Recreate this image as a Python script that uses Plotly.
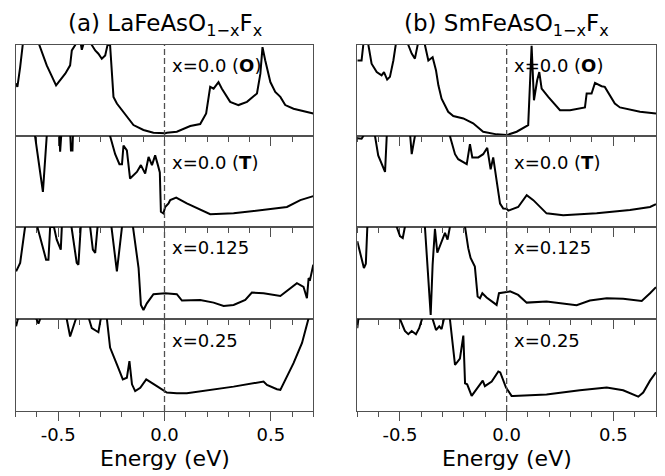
import plotly.graph_objects as go

# ---------------- data (energy in eV, DOS normalised to panel height; >1 is clipped) -------------
la_o_e = [-0.700, -0.692, -0.679, -0.667, -0.62, -0.588, -0.554, -0.510, -0.491, -0.467, -0.444, -0.436, -0.420,
          -0.40, -0.389, -0.37, -0.342, -0.326, -0.311, -0.295, -0.279, -0.268, -0.256, -0.240, -0.224, -0.193,
          -0.146, -0.099, -0.052, 0.003, 0.011, 0.058, 0.121, 0.168, 0.196, 0.215, 0.231, 0.254, 0.270, 0.309,
          0.348, 0.388, 0.435, 0.451, 0.461, 0.474, 0.498, 0.521, 0.545, 0.568, 0.607, 0.700]
la_o_d = [0.576, 0.540, 0.757, 1.0, 1.2, 1.0, 0.776, 0.557, 0.612, 0.685, 0.776, 0.940, 1.0,
          1.1, 0.947, 1.1, 1.0, 0.940, 0.904, 0.849, 0.885, 1.0, 1.0, 0.430, 0.357, 0.266,
          0.120, 0.066, 0.036, 0.029, 0.036, 0.047, 0.110, 0.131, 0.248, 0.540, 0.520, 0.593, 0.520, 0.375,
          0.340, 0.375, 0.467, 0.685, 0.976, 0.830, 0.593, 0.484, 0.430, 0.340, 0.300, 0.248]

la_t_e = [-0.700, -0.65, -0.609, -0.572, -0.554, -0.52, -0.494, -0.491, -0.486, -0.46, -0.443, -0.440, -0.433,
          -0.431, -0.35, -0.256, -0.232, -0.212, -0.200, -0.193, -0.177, -0.162, -0.130, -0.111, -0.091, -0.075,
          -0.059, -0.044, -0.031, -0.022, -0.017, -0.005, 0.003, 0.019, 0.027, 0.055, 0.105, 0.168, 0.215,
          0.325, 0.450, 0.576, 0.639, 0.700]
la_t_d = [1.2, 1.2, 1.0, 0.386, 1.0, 1.2, 1.0, 0.828, 1.0, 1.2, 1.0, 0.84, 0.84,
          1.0, 1.2, 1.0, 0.800, 0.690, 0.690, 0.896, 0.842, 0.532, 0.605, 0.680, 0.587, 0.770,
          0.680, 0.787, 0.680, 0.600, 0.167, 0.150, 0.220, 0.260, 0.295, 0.324, 0.260, 0.186, 0.140,
          0.150, 0.186, 0.220, 0.295, 0.339]

la_125_e = [-0.698, -0.679, -0.656, -0.62, -0.598, -0.557, -0.546, -0.538, -0.52, -0.507, -0.488, -0.483, -0.45,
            -0.413, -0.405, -0.394, -0.36, -0.337, -0.326, -0.315, -0.26, -0.224, -0.200, -0.16, -0.122, -0.111,
            -0.099, -0.083, -0.052, -0.020, 0.003, 0.058, 0.082, 0.168, 0.231, 0.278, 0.325, 0.380, 0.411,
            0.466, 0.545, 0.623, 0.654, 0.670, 0.678, 0.685, 0.700]
la_125_d = [0.517, 0.610, 1.0, 1.2, 1.0, 0.645, 0.645, 1.0, 1.0, 0.863, 0.754, 1.0, 1.2,
            0.610, 0.590, 1.0, 1.2, 0.754, 0.718, 1.0, 1.2, 0.517, 1.0, 1.2, 0.554, 0.153,
            0.098, 0.170, 0.270, 0.275, 0.280, 0.270, 0.200, 0.207, 0.178, 0.142, 0.153, 0.207, 0.287,
            0.280, 0.250, 0.390, 0.350, 0.226, 0.444, 0.430, 0.590]

la_25_e = [-0.698, -0.690, -0.64, -0.600, -0.593, -0.585, -0.52, -0.46, -0.444, -0.417, -0.38, -0.355,
           -0.342, -0.311, -0.303, -0.285, -0.271, -0.256, -0.224, -0.196, -0.177, -0.165, -0.153, -0.138,
           -0.114, -0.086, -0.036, 0.011, 0.058, 0.105, 0.325, 0.466, 0.482, 0.529, 0.545, 0.568, 0.607,
           0.647, 0.670, 0.678, 0.700]
la_25_d = [0.92, 1.0, 1.2, 1.0, 0.95, 1.0, 1.2, 1.0, 0.81, 1.0, 1.2, 1.0,
           0.90, 0.856, 1.0, 1.2, 1.0, 0.690, 0.508, 0.344, 0.362, 0.543, 0.290, 0.216,
           0.253, 0.344, 0.270, 0.200, 0.193, 0.193, 0.265, 0.320, 0.284, 0.237, 0.230, 0.339, 0.520,
           0.740, 0.920, 1.0, 1.2]

sm_o_e = [-0.700, -0.680, -0.672, -0.66, -0.648, -0.633, -0.609, -0.586, -0.575, -0.560, -0.547, -0.531,
          -0.520, -0.49, -0.461, -0.445, -0.430, -0.422, -0.414, -0.40, -0.383, -0.367, -0.347, -0.331,
          -0.320, -0.305, -0.274, -0.250, -0.203, -0.157, -0.110, -0.047, 0.000, 0.047, 0.101, 0.109,
          0.117, 0.128, 0.143, 0.153, 0.164, 0.195, 0.250, 0.297, 0.367, 0.375, 0.398, 0.414, 0.445,
          0.460, 0.507, 0.531, 0.625, 0.700]
sm_o_d = [0.830, 0.830, 1.0, 1.2, 1.0, 0.794, 0.703, 0.667, 0.703, 0.620, 0.650, 0.830,
          1.0, 1.2, 1.0, 0.905, 0.850, 0.940, 1.0, 1.2, 1.0, 0.830, 0.866, 0.720,
          0.557, 0.410, 0.266, 0.219, 0.193, 0.139, 0.047, 0.018, 0.010, 0.047, 0.120, 0.576,
          0.990, 0.393, 0.612, 0.703, 0.520, 0.430, 0.284, 0.284, 0.314, 0.467, 0.467, 0.583, 0.547,
          0.540, 0.357, 0.314, 0.266, 0.248]

sm_t_e = [-0.700, -0.680, -0.672, -0.65, -0.617, -0.602, -0.570, -0.562, -0.50, -0.452, -0.445, -0.430,
          -0.35, -0.266, -0.242, -0.227, -0.187, -0.172, -0.161, -0.133, -0.110, -0.091, -0.075, -0.063,
          -0.047, -0.031, -0.016, 0.000, 0.008, 0.031, 0.054, 0.094, 0.125, 0.187, 0.265, 0.422, 0.578,
          0.672, 0.700]
sm_t_d = [0.974, 0.970, 1.0, 1.2, 1.0, 0.787, 0.605, 1.0, 1.2, 1.0, 0.800, 1.0,
          1.2, 1.0, 0.800, 0.745, 0.690, 0.910, 0.765, 0.765, 0.800, 0.870, 0.634, 0.765,
          0.510, 0.257, 0.202, 0.200, 0.180, 0.200, 0.220, 0.350, 0.295, 0.150, 0.130, 0.150, 0.186,
          0.220, 0.250]

sm_125_e = [-0.700, -0.687, -0.669, -0.660, -0.653, -0.58, -0.515, -0.500, -0.487, -0.477, -0.43, -0.383,
            -0.356, -0.347, -0.336, -0.325, -0.305, -0.289, -0.277, -0.266, -0.23, -0.195, -0.180, -0.169,
            -0.149, -0.136, -0.125, -0.114, -0.094, -0.047, -0.036, -0.008, 0.016, 0.054, 0.094, 0.187,
            0.265, 0.328, 0.390, 0.469, 0.546, 0.633, 0.672, 0.700]
sm_125_d = [0.845, 0.735, 0.554, 0.60, 1.0, 1.2, 1.0, 0.900, 0.880, 1.0, 1.2, 1.0,
            0.044, 0.590, 0.980, 0.720, 0.830, 0.937, 0.863, 1.0, 1.2, 1.0, 0.770, 0.663,
            0.570, 0.244, 0.226, 0.280, 0.233, 0.153, 0.280, 0.290, 0.300, 0.262, 0.178, 0.190,
            0.170, 0.150, 0.200, 0.226, 0.220, 0.197, 0.280, 0.346]

sm_25_e = [-0.700, -0.695, -0.60, -0.500, -0.477, -0.461, -0.445, -0.425, -0.410, -0.398, -0.37, -0.347,
           -0.331, -0.316, -0.305, -0.294, -0.28, -0.266, -0.242, -0.219, -0.203, -0.195, -0.185, -0.164,
           -0.141, -0.112, -0.102, -0.070, -0.039, -0.030, -0.003, 0.023, 0.031, 0.187, 0.343, 0.469,
           0.546, 0.617, 0.640, 0.672, 0.700]
sm_25_d = [0.90, 1.0, 1.2, 1.0, 0.870, 0.835, 0.870, 0.835, 0.900, 1.0, 1.2, 1.0,
           0.880, 0.920, 0.890, 1.0, 1.2, 1.0, 0.500, 0.570, 0.820, 0.300, 0.290, 0.164,
           0.235, 0.330, 0.270, 0.320, 0.430, 0.420, 0.255, 0.164, 0.164, 0.180, 0.225, 0.255,
           0.225, 0.156, 0.200, 0.330, 0.420]

row_labels = ["x=0.0 (<b>O</b>)", "x=0.0 (<b>T</b>)", "x=0.125", "x=0.25"]
panel_titles = ["(a) LaFeAsO<sub>1\u2212x</sub>F<sub>x</sub>", "(b) SmFeAsO<sub>1\u2212x</sub>F<sub>x</sub>"]
tick_vals = [-0.5, 0.0, 0.5]
tick_text = ["-0.5", "0.0", "0.5"]
minor_vals = [-0.7, -0.6, -0.4, -0.3, -0.2, -0.1, 0.1, 0.2, 0.3, 0.4, 0.6, 0.7]
x_title = "Energy (eV)"

series = [
    [(la_o_e, la_o_d), (la_t_e, la_t_d), (la_125_e, la_125_d), (la_25_e, la_25_d)],
    [(sm_o_e, sm_o_d), (sm_t_e, sm_t_d), (sm_125_e, sm_125_d), (sm_25_e, sm_25_d)],
]

# ---------------- layout geometry (screen pixels; page body has an 8px margin) ----------------
OFF = 8
W, H = 665 - OFF, 476 - OFF
col_px = [(15.7, 313.3), (357.3, 656.0)]
row_px = [(45, 136), (136, 227), (227, 319), (319, 411)]
label_px_y = [65, 163, 248, 340]
xtitle_px_y = 458


def px2x(px):
    return (px - OFF) / W


def px2y(py):
    return 1 - (py - OFF) / H


FONT = "DejaVu Sans, sans-serif"
LINEC = "#505050"

fig = go.Figure()
layout = dict(
    width=W, height=H, margin=dict(l=0, r=0, t=0, b=0, autoexpand=False),
    paper_bgcolor="white", plot_bgcolor="white", showlegend=False,
    font=dict(family=FONT, color="black"),
)
annotations = []
shapes = []

n = 0
for c in range(2):
    x0, x1 = px2x(col_px[c][0]), px2x(col_px[c][1])
    for r in range(4):
        n += 1
        xa = "xaxis" if n == 1 else f"xaxis{n}"
        ya = "yaxis" if n == 1 else f"yaxis{n}"
        xref = "x" if n == 1 else f"x{n}"
        yref = "y" if n == 1 else f"y{n}"
        top, bot = row_px[r]
        y0, y1 = px2y(bot), px2y(top)
        bottom_row = (r == 3)
        layout[xa] = dict(
            domain=[x0, x1], range=[-0.7, 0.7], anchor=yref,
            showline=True, mirror=True, linecolor=LINEC, linewidth=1.3,
            showgrid=False, zeroline=False,
            ticks="outside", ticklen=9, tickwidth=1.3, tickcolor=LINEC,
            tickmode="array", tickvals=tick_vals, ticktext=tick_text,
            showticklabels=bottom_row, tickfont=dict(size=18, family=FONT, color="black"),
            ticklabelstandoff=-2,
            minor=dict(ticks="outside", ticklen=5, tickwidth=1.3, tickcolor=LINEC,
                       tickmode="array", tickvals=minor_vals, showgrid=False),
            fixedrange=True,
        )
        layout[ya] = dict(
            domain=[y0, y1], range=[0, 1], anchor=xref,
            showline=True, mirror=True, linecolor=LINEC, linewidth=1.3,
            showgrid=False, zeroline=False, showticklabels=False, ticks="", fixedrange=True,
        )
        e, d = series[c][r]
        fig.add_trace(go.Scatter(x=e, y=d, mode="lines", xaxis=xref, yaxis=yref,
                                 line=dict(color="black", width=2), hoverinfo="skip"))
        annotations.append(dict(
            x=0.025, xref=xref, y=px2y(label_px_y[r]), yref="paper",
            text=row_labels[r], showarrow=False, xanchor="left", yanchor="middle",
            font=dict(size=18, family=FONT, color="black"),
        ))
        shapes.append(dict(type="line", xref=xref, yref=yref, x0=0, x1=0, y0=0, y1=1,
                           line=dict(color=LINEC, width=1.3, dash="6px,3px")))
    annotations.append(dict(
        x=(x0 + x1) / 2, xref="paper", y=1.0, yref="paper",
        text=panel_titles[c], showarrow=False, xanchor="center", yanchor="top",
        font=dict(size=23, family=FONT, color="black"),
    ))
    annotations.append(dict(
        x=(x0 + x1) / 2, xref="paper", y=px2y(xtitle_px_y), yref="paper",
        text=x_title, showarrow=False, xanchor="center", yanchor="middle",
        font=dict(size=22, family=FONT, color="black"),
    ))

layout["annotations"] = annotations
layout["shapes"] = shapes
fig.update_layout(**layout)
fig.write_html("out.html")
